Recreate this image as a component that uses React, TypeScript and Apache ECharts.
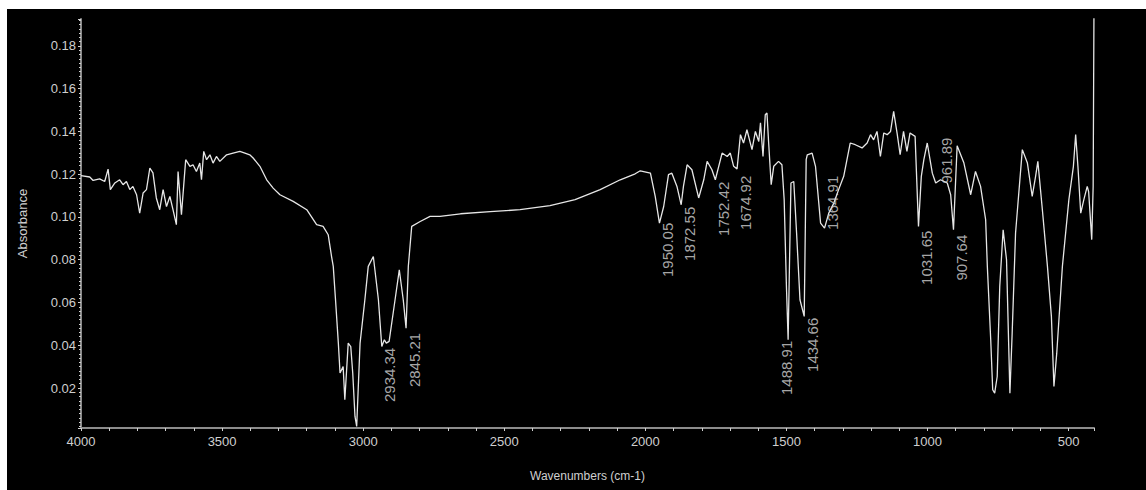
import React, { useEffect, useRef } from "react";
import * as echarts from "echarts";

// Spectrum trace (wavenumber in cm-1, descending) and absorbance values
const wavenumber = [
  4000, 3969, 3957, 3934, 3916, 3904, 3896, 3880, 3863, 3851, 3839, 3827, 3816, 3803, 3792, 3780,
  3768, 3756, 3745, 3733, 3721, 3709, 3697, 3685, 3674, 3662, 3656, 3644, 3629, 3614, 3603, 3591,
  3579, 3573, 3565, 3555, 3543, 3532, 3520, 3508, 3484, 3461, 3437, 3419, 3402, 3390, 3366, 3342,
  3319, 3295, 3248, 3200, 3165, 3142, 3124, 3112, 3106, 3098, 3088, 3082, 3071, 3065, 3053, 3044,
  3037, 3029, 3023, 3011, 2994, 2982, 2964, 2946, 2934, 2925, 2918, 2908, 2887, 2872, 2858, 2848,
  2840, 2828, 2798, 2763, 2728, 2655, 2550, 2444, 2338, 2249, 2160, 2089, 2036, 2018, 1982, 1965,
  1950, 1935, 1918, 1906, 1888, 1873, 1865, 1852, 1835, 1811, 1793, 1781, 1764, 1752, 1728, 1710,
  1699, 1687, 1675, 1663, 1652, 1640, 1622, 1610, 1598, 1592, 1583, 1575, 1569, 1563, 1554, 1545,
  1528, 1516, 1508, 1500, 1494, 1484, 1474, 1464, 1452, 1437, 1430, 1426, 1409, 1397, 1379, 1365,
  1350, 1332, 1315, 1297, 1274, 1256, 1232, 1214, 1202, 1191, 1179, 1167, 1155, 1143, 1131, 1120,
  1108, 1097, 1085, 1073, 1062, 1044, 1032, 1022, 1013, 1001, 983, 971, 954, 930, 918, 908,
  895, 871, 847, 830, 812, 794, 788, 776, 769, 762, 753, 744, 732, 720, 708, 700,
  688, 664, 646, 629, 617, 609, 593, 575, 561, 552, 542, 522, 499, 483, 475, 467,
  457, 446, 434, 429, 418, 413, 410,
];
const absorbance = [
  0.1193, 0.1187, 0.1171, 0.1178, 0.1166, 0.1224, 0.1128, 0.1159, 0.1174, 0.1151, 0.1166, 0.1128, 0.1143, 0.1104, 0.1018, 0.1112,
  0.1128, 0.1229, 0.1206, 0.1089, 0.1034, 0.1128, 0.1049, 0.1096, 0.1034, 0.0964, 0.1213, 0.1011, 0.1268, 0.1237, 0.1244, 0.1213,
  0.1252, 0.1174, 0.1307, 0.1268, 0.1291, 0.1252, 0.1283, 0.126, 0.1291, 0.1299, 0.1307, 0.1299, 0.1291, 0.1276, 0.1237, 0.1174,
  0.1135, 0.1104, 0.1073, 0.1034, 0.0964, 0.0956, 0.0917, 0.0815, 0.0769, 0.0613, 0.041, 0.027, 0.0301, 0.0145, 0.041, 0.0394,
  0.027, 0.0067, 0.002, 0.041, 0.0613, 0.0769, 0.0815, 0.0613, 0.0394, 0.0426, 0.041, 0.0418, 0.0613, 0.0753, 0.0613, 0.048,
  0.0769, 0.0956, 0.0979, 0.1003, 0.1003, 0.1015, 0.1025, 0.1034, 0.1053, 0.1081, 0.1128, 0.1174, 0.1202, 0.1216, 0.1205, 0.1096,
  0.0971, 0.1049, 0.1198, 0.1205, 0.1143, 0.1057, 0.1143, 0.1244, 0.1221, 0.1089, 0.1174, 0.126, 0.1221, 0.1174, 0.1299, 0.1283,
  0.1299, 0.1237, 0.1225, 0.1385, 0.1346, 0.1408, 0.1315, 0.14, 0.1353, 0.144, 0.1283, 0.1478, 0.1486, 0.1346, 0.1151, 0.1237,
  0.126, 0.1244, 0.1081, 0.0675, 0.0426, 0.1159, 0.1166, 0.0925, 0.0613, 0.0535, 0.1268, 0.1291, 0.1299, 0.1237, 0.0971, 0.0948,
  0.1018, 0.1065, 0.1128, 0.119, 0.1346, 0.1338, 0.1323, 0.1346, 0.1385, 0.1361, 0.14, 0.1283, 0.1393, 0.1385, 0.14, 0.1494,
  0.1393, 0.1291, 0.14, 0.1307, 0.1393, 0.1377, 0.0956, 0.119, 0.1268, 0.1346, 0.1205, 0.1159, 0.1174, 0.1159, 0.1104, 0.094,
  0.1333, 0.1252, 0.1104, 0.1213, 0.1143, 0.0987, 0.0769, 0.0426, 0.0192, 0.0176, 0.0254, 0.0675, 0.094, 0.08, 0.0176, 0.0457,
  0.0925, 0.1315, 0.1252, 0.1096, 0.119, 0.126, 0.1034, 0.0769, 0.0535, 0.0207, 0.0363, 0.0769, 0.1081, 0.1237, 0.1385, 0.1237,
  0.1018, 0.1081, 0.1143, 0.1118, 0.0894, 0.1143, 0.2,
];

// Peak annotations: label text, wavenumber and absorbance level where the label sits
const peakLabels = ["2934.34", "2845.21", "1950.05", "1872.55", "1752.42", "1674.92", "1488.91", "1434.66", "1364.91", "1031.65", "961.89", "907.64"];
const peakWavenumbers = [2934.34, 2845.21, 1950.05, 1872.55, 1752.42, 1674.92, 1488.91, 1434.66, 1364.91, 1031.65, 961.89, 907.64];
const peakLabelAbs = [0.0388, 0.0458, 0.0973, 0.1048, 0.1165, 0.1193, 0.0421, 0.0529, 0.1193, 0.0936, 0.1371, 0.0917];

const SANS = "'Liberation Sans', Arial, sans-serif";
const TEXT = "#cfcfcf";

export default function App() {
  const ref = useRef<HTMLDivElement>(null);
  useEffect(() => {
    if (!ref.current) return;
    const chart = echarts.init(ref.current, undefined, { renderer: "svg" });
    const lineData = wavenumber.map((w, i) => [w, absorbance[i]]);
    chart.setOption({
      animation: false,
      backgroundColor: "transparent",
      grid: { left: 81, right: 52, top: 19, bottom: 62, containLabel: false },
      xAxis: {
        type: "value",
        inverse: true,
        min: 410,
        max: 4000,
        splitNumber: 7,
        minInterval: 500,
        maxInterval: 500,
        name: "Wavenumbers (cm-1)",
        nameLocation: "middle",
        nameGap: 42,
        nameTextStyle: { color: TEXT, fontFamily: SANS, fontSize: 12 },
        axisLine: { show: true, onZero: false, lineStyle: { color: "#8c8c8c", width: 2 } },
        axisTick: { show: true, length: 3, lineStyle: { color: "#d0d0d0" } },
        minorTick: { show: true, splitNumber: 5, length: 3, lineStyle: { color: "#d0d0d0" } },
        axisLabel: {
          color: TEXT,
          fontFamily: SANS,
          fontSize: 13,
          margin: 7,
          showMinLabel: false,
          showMaxLabel: true,
          formatter: (v: number) => String(Math.round(v)),
        },
        splitLine: { show: false },
        minorSplitLine: { show: false },
      },
      yAxis: {
        type: "value",
        min: 0.0013,
        max: 0.1926,
        splitNumber: 10,
        minInterval: 0.02,
        maxInterval: 0.02,
        name: "Absorbance",
        nameLocation: "middle",
        nameGap: 52,
        nameTextStyle: { color: TEXT, fontFamily: SANS, fontSize: 13 },
        axisLine: { show: true, onZero: false, lineStyle: { color: "#8c8c8c", width: 2 } },
        axisTick: { show: true, length: 3, lineStyle: { color: "#d0d0d0" } },
        minorTick: { show: true, splitNumber: 10, length: 2, lineStyle: { color: "#d0d0d0" } },
        axisLabel: {
          color: TEXT,
          fontFamily: SANS,
          fontSize: 13,
          margin: 5,
          showMinLabel: false,
          showMaxLabel: false,
          formatter: (v: number) => v.toFixed(2),
        },
        splitLine: { show: false },
        minorSplitLine: { show: false },
      },
      series: [
        {
          type: "line",
          data: lineData,
          symbol: "none",
          showSymbol: false,
          clip: true,
          lineStyle: { color: "#e6e6e6", width: 1.3 },
          silent: true,
          z: 2,
        },
        {
          type: "scatter",
          data: peakWavenumbers.map((w, i) => ({
            value: [w, peakLabelAbs[i]],
            name: peakLabels[i],
            label: peakLabels[i] === "1488.91" ? { position: [-3, 0] } : undefined,
          })),
          symbolSize: 0,
          silent: true,
          z: 3,
          label: {
            show: true,
            formatter: "{b}",
            rotate: 90,
            position: [8, 0],
            align: "right",
            verticalAlign: "middle",
            color: "#d4d4d4",
            fontFamily: SANS,
            fontSize: 15,
          },
        },
      ],
    });
    return () => chart.dispose();
  }, []);

  return (
    <div style={{ position: "absolute", left: 0, top: 0, width: 1146, height: 490, background: "#ffffff" }}>
      <div style={{ position: "absolute", left: 7, top: 9, width: 1139, height: 481, background: "#000000" }} />
      <div ref={ref} style={{ position: "absolute", left: 0, top: 0, width: 1146, height: 490 }} />
    </div>
  );
}
